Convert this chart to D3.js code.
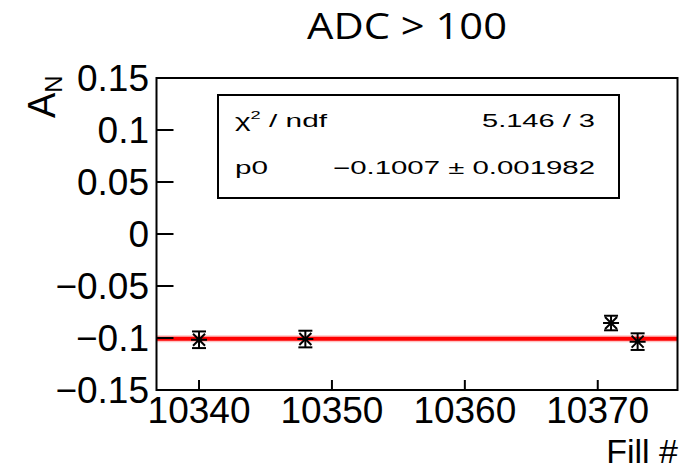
<!DOCTYPE html>
<html>
<head>
<meta charset="utf-8">
<script src="https://cdn.jsdelivr.net/npm/d3@7"></script>
<style>
  body { margin: 0; background: #fff; }
  svg { display: block; }
  text { font-family: "Liberation Sans", Arial, sans-serif; fill: #000; }
</style>
</head>
<body>
<svg width="682" height="472"></svg>
<script>
// data
const fills = [10340, 10348, 10371, 10373];
const asym = [-0.1017, -0.1010, -0.0856, -0.1035];
const asymErr = [0.008, 0.008, 0.007, 0.008];
const fitP0 = -0.1007;
const xTicks = [10340, 10350, 10360, 10370];
const yTicks = [0.15, 0.1, 0.05, 0, -0.05, -0.1, -0.15];
const statRows = [["ndf", "5.146 / 3"], ["p0", "−0.1007 ± 0.001982"]];

const svg = d3.select('svg');
const pLeft = 156.5, pRight = 677.5, pTop = 78, pBottom = 390;

const x = d3.scaleLinear().domain([10336.8, 10376.0]).range([pLeft, pRight]);
const y = d3.scaleLinear().domain([-0.15, 0.15]).range([pBottom, pTop]);

function fmt(v) {
  let s = String(Math.abs(+v.toFixed(2)));
  return (v < -1e-9 ? '−' : '') + s;
}

// title
svg.append('text')
  .attr('x', 407).attr('y', 39)
  .attr('text-anchor', 'middle')
  .attr('textLength', 200).attr('lengthAdjust', 'spacingAndGlyphs')
  .style('font-family', '"Open Sans", sans-serif')
  .style('font-size', '36px')
  .text('ADC > 100');

// fit line (halo + line)
svg.append('line')
  .attr('x1', pLeft).attr('x2', pRight)
  .attr('y1', y(fitP0)).attr('y2', y(fitP0))
  .attr('stroke', '#ffc4c4').attr('stroke-width', 7);
svg.append('line')
  .attr('x1', pLeft).attr('x2', pRight)
  .attr('y1', y(fitP0)).attr('y2', y(fitP0))
  .attr('stroke', '#ff0000').attr('stroke-width', 4);

// frame
svg.append('rect')
  .attr('x', pLeft).attr('y', pTop)
  .attr('width', pRight - pLeft).attr('height', pBottom - pTop)
  .attr('fill', 'none').attr('stroke', '#000').attr('stroke-width', 2);

// y ticks + labels
svg.selectAll('.yt').data(yTicks).enter().append('line')
  .attr('x1', pLeft).attr('x2', pLeft + 17)
  .attr('y1', d => y(d)).attr('y2', d => y(d))
  .attr('stroke', '#000').attr('stroke-width', 2);
svg.selectAll('.yl').data(yTicks).enter().append('text')
  .attr('x', 149).attr('y', d => y(d) + 13)
  .attr('text-anchor', 'end')
  .style('font-size', '37px')
  .text(fmt);

// x ticks + labels
svg.selectAll('.xt').data(xTicks).enter().append('line')
  .attr('x1', d => x(d)).attr('x2', d => x(d))
  .attr('y1', pBottom).attr('y2', pBottom - 10)
  .attr('stroke', '#000').attr('stroke-width', 2);
svg.selectAll('.xl').data(xTicks).enter().append('text')
  .attr('x', d => x(d)).attr('y', 423)
  .attr('text-anchor', 'middle')
  .style('font-size', '37px')
  .text(d => d);

// axis titles
svg.append('text')
  .attr('x', 678).attr('y', 463)
  .attr('text-anchor', 'end')
  .style('font-size', '34px')
  .text('Fill #');

const yt = svg.append('text')
  .attr('transform', 'translate(55,118) rotate(-90)')
  .style('font-size', '38px');
yt.append('tspan').text('A');
yt.append('tspan').attr('dy', 7).style('font-size', '24px').text('N');

// markers: error bars + star
const pts = svg.selectAll('.pt').data(fills).enter().append('g')
  .attr('transform', (d, i) => `translate(${x(d)},${y(asym[i])})`);
pts.append('line')
  .attr('x1', 0).attr('x2', 0)
  .attr('y1', (d, i) => y(asym[i] + asymErr[i]) - y(asym[i]))
  .attr('y2', (d, i) => y(asym[i] - asymErr[i]) - y(asym[i]))
  .attr('stroke', '#000').attr('stroke-width', 2);
pts.selectAll('.cap').data((d, i) => [asymErr[i], -asymErr[i]].map(e => ({e, v: asym[i]})))
  .enter().append('line')
  .attr('x1', -7).attr('x2', 7)
  .attr('y1', c => y(c.v + c.e) - y(c.v))
  .attr('y2', c => y(c.v + c.e) - y(c.v))
  .attr('stroke', '#000').attr('stroke-width', 2);
pts.append('path')
  .attr('d', 'M-8,0H8M-6,-6L6,6M-6,6L6,-6')
  .attr('stroke', '#000').attr('stroke-width', 2);

// stat box
const box = svg.append('g');
box.append('rect')
  .attr('x', 218).attr('y', 95).attr('width', 401).attr('height', 103)
  .attr('fill', '#fff').attr('stroke', '#000').attr('stroke-width', 2);
// row 1 label: chi^2 / ndf
const chi = box.append('text').attr('x', 235).attr('y', 127)
  .attr('textLength', 92).attr('lengthAdjust', 'spacingAndGlyphs')
  .style('font-size', '18px');
chi.append('tspan').text('χ');
chi.append('tspan').attr('dy', -8).style('font-size', '11px').text('2');
chi.append('tspan').attr('dy', 8).text(' / ' + statRows[0][0]);
box.append('text').attr('x', 595).attr('y', 127)
  .attr('text-anchor', 'end')
  .attr('textLength', 113).attr('lengthAdjust', 'spacingAndGlyphs')
  .style('font-size', '18px').text(statRows[0][1]);
// row 2
box.append('text').attr('x', 235).attr('y', 174)
  .attr('textLength', 33).attr('lengthAdjust', 'spacingAndGlyphs')
  .style('font-size', '18px').text(statRows[1][0]);
box.append('text').attr('x', 595).attr('y', 174)
  .attr('text-anchor', 'end')
  .attr('textLength', 262).attr('lengthAdjust', 'spacingAndGlyphs')
  .style('font-size', '18px').text(statRows[1][1]);
</script>
</body>
</html>
